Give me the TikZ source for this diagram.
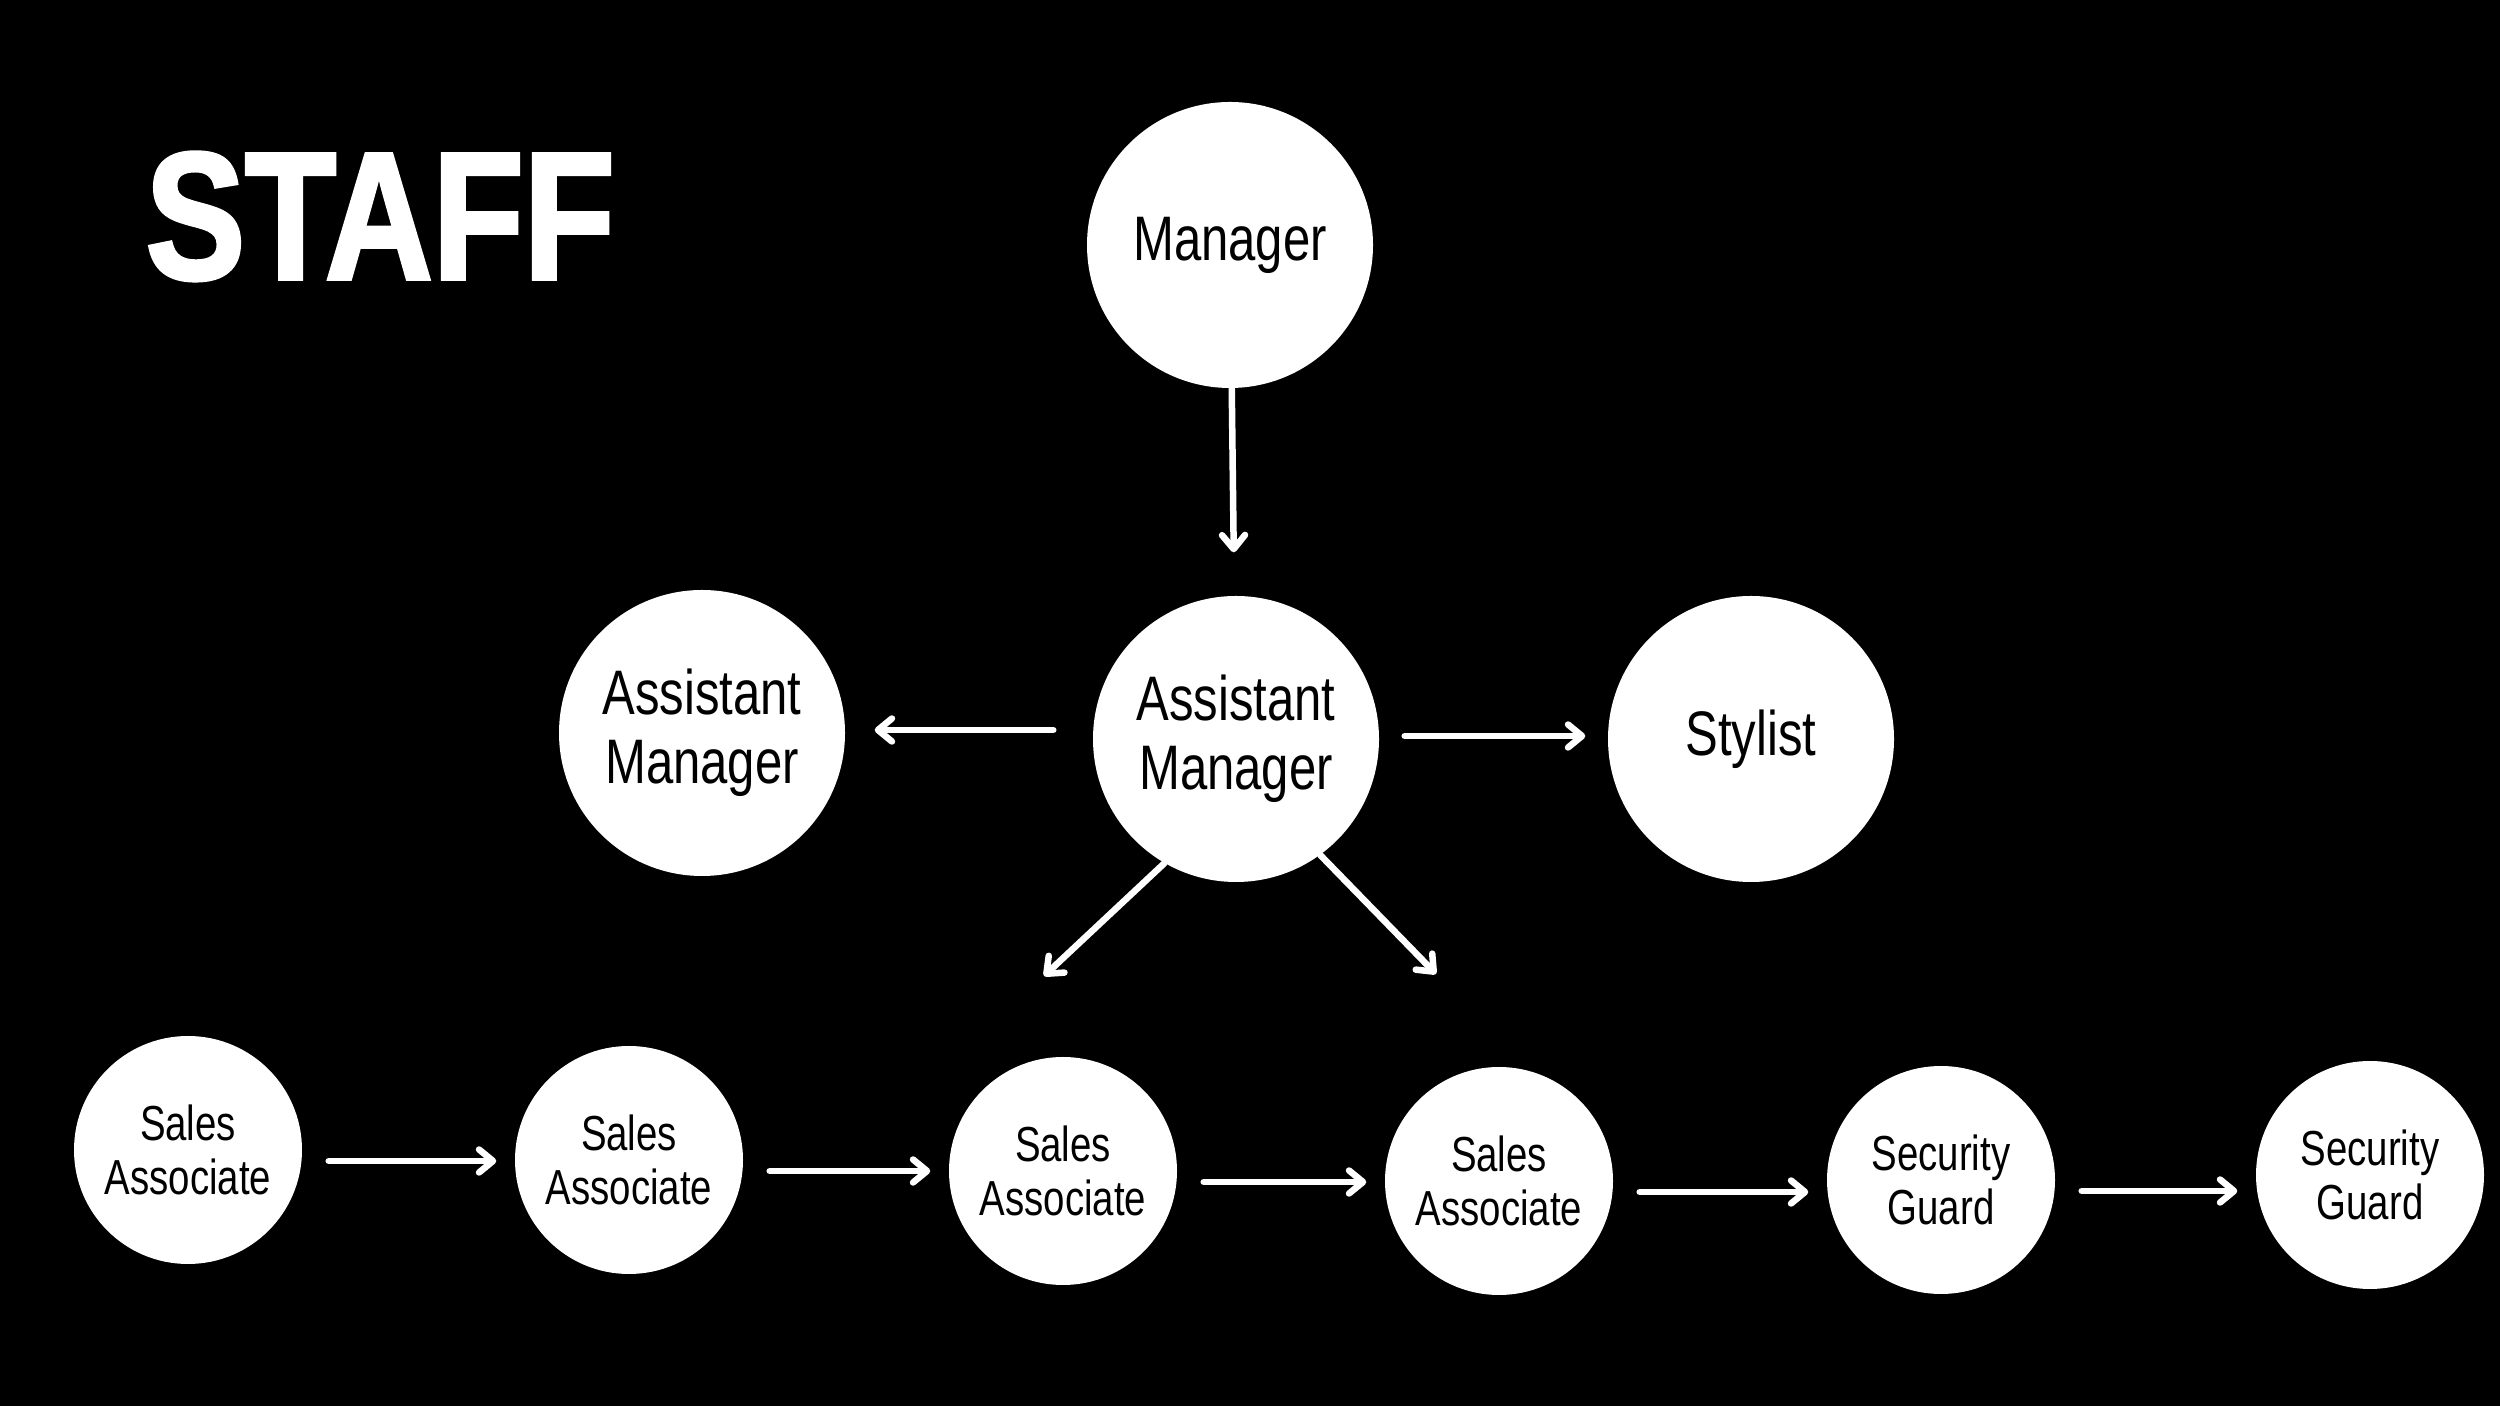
\documentclass[tikz,border=0pt]{standalone}
\usepackage{fontspec}
\setmainfont{Liberation Sans}
\newfontfamily\titlefont[FakeStretch=0.82, FakeBold=2]{Liberation Sans}
\newfontfamily\labelfont[FakeStretch=0.78]{Liberation Sans}
\usetikzlibrary{positioning, arrows.meta, calc}

\begin{document}
\begin{tikzpicture}[
        big/.style={circle, fill=white, minimum size=2.86cm, inner sep=0pt, align=center, font=\labelfont\fontsize{17.9}{19.7}\selectfont},
        small/.style={circle, fill=white, minimum size=2.28cm, inner sep=0pt, align=center, font=\labelfont\fontsize{14}{15.4}\selectfont},
        arr/.style={-{Straight Barb[length=1.4mm, width=2.3mm, line cap=round, line join=round]}, line width=1.85pt, white, line cap=round},
    ]
    % Background
    \fill[black] (0,0) rectangle (25,14.06);
    \useasboundingbox (0,0) rectangle (25,14.06);

    % Title
    \node[anchor=base west, inner sep=0pt, text=white, font=\titlefont\bfseries\fontsize{51.7}{56}\selectfont] (title) at (1.45,11.27) {STAFF};

    % Top
    \node[big] (mgr) at (12.30,11.61) {Manager};

    % Middle row
    \node[big] (am) at (12.36,6.67) {Assistant\\Manager};
    \node[big] (aml) at (7.02,6.73) {Assistant\\Manager};
    \node[big] (sty) at (17.51,6.67) {Stylist};

    % Bottom row
    \node[small] (sa1) at (1.88,2.56) {Sales\\Associate};
    \node[small] (sa2) at (6.29,2.46) {Sales\\Associate};
    \node[small] (sa3) at (10.63,2.35) {Sales\\Associate};
    \node[small] (sa4) at (14.99,2.25) {Sales\\Associate};
    \node[small] (sg1) at (19.41,2.26) {Security\\Guard};
    \node[small] (sg2) at (23.70,2.31) {Security\\Guard};

    % Free ends of the diagonal arrows
    \coordinate (dl) at (10.44,4.30);
    \coordinate (dr) at (14.36,4.32);

    % Arrows
    \draw[arr, shorten >=0.43cm] (mgr) -- (am);
    \draw[arr] ($(am.west)+(-0.39,0.09)$) -- ($(am.west -| aml.east)+(0.29,0.09)$);
    \draw[arr] ($(am.east)+(0.25,0.03)$) -- ($(am.east -| sty.west)+(-0.22,0.03)$);
    \draw[arr] (am.240) -- (dl);
    \draw[arr] (am.306) -- (dr);
    \foreach \a/\b in {sa1/sa2, sa2/sa3, sa3/sa4, sa4/sg1, sg1/sg2}
        \draw[arr] ($(\a.east)+(0.26,-0.11)$) -- ($(\a.east -| \b.west)+(-0.18,-0.11)$);
\end{tikzpicture}
\end{document}
